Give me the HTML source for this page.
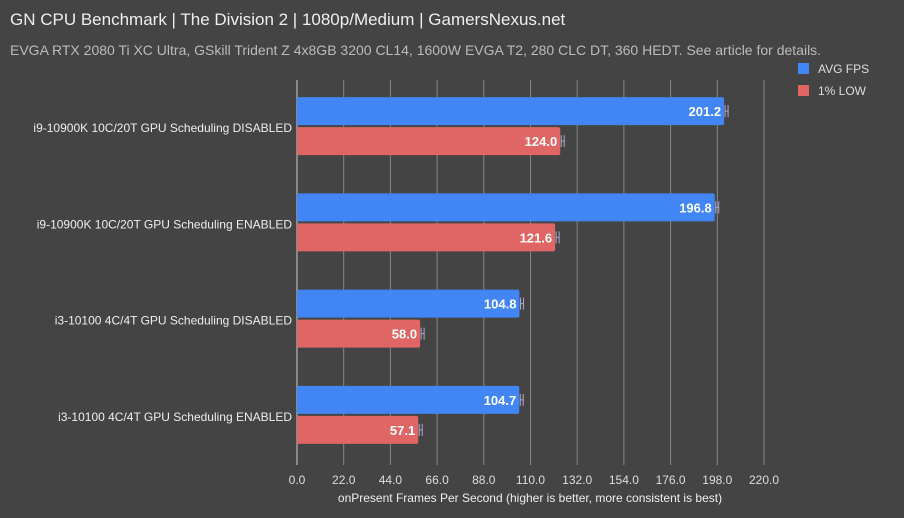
<!DOCTYPE html>
<html><head><meta charset="utf-8"><style>
body{margin:0;background:#444;}
svg{display:block;font-family:"Liberation Sans",sans-serif;}
</style></head><body>
<svg id="c" width="904" height="518">
<rect width="904" height="518" fill="#444"/>
<text x="10" y="25" font-size="17" fill="#eee">GN CPU Benchmark | The Division 2 | 1080p/Medium | GamersNexus.net</text>
<text x="10" y="55" font-size="14" fill="#bbb">EVGA RTX 2080 Ti XC Ultra, GSkill Trident Z 4x8GB 3200 CL14, 1600W EVGA T2, 280 CLC DT, 360 HEDT. See article for details.</text>
<g>
<rect x="798" y="63" width="11" height="11" fill="#4285f4"/>
<text x="818" y="73" font-size="12" fill="#ddd">AVG FPS</text>
<rect x="798" y="85" width="11" height="11" fill="#e06666"/>
<text x="818" y="95" font-size="12" fill="#ddd">1% LOW</text>
</g>
<g id="grid"></g><g id="bars"></g>
<text x="530" y="502" font-size="12" fill="#eee" text-anchor="middle">onPresent Frames Per Second (higher is better, more consistent is best)</text>
</svg>
<script>
const categories=["i9-10900K 10C/20T GPU Scheduling DISABLED","i9-10900K 10C/20T GPU Scheduling ENABLED","i3-10100 4C/4T GPU Scheduling DISABLED","i3-10100 4C/4T GPU Scheduling ENABLED"];
const avgFps=[201.2,196.8,104.8,104.7];
const lowFps=[124.0,121.6,58.0,57.1];
const ticks=[0,22,44,66,88,110,132,154,176,198,220];
const NS="http://www.w3.org/2000/svg";
const x0=297,sc=2.1227,yTop=80,yBot=465;
const xs=v=>x0+v*sc;
function mk(t,a,p){const e=document.createElementNS(NS,t);for(const k in a)e.setAttribute(k,a[k]);p.appendChild(e);return e;}
const g=document.getElementById('grid'),b=document.getElementById('bars');
ticks.forEach(t=>{
 const l=mk('line',{x1:xs(t),x2:xs(t),y1:yTop,y2:yBot,stroke:t===0?'#ccc':'#888','stroke-width':1},g);
 
 
 const tx=mk('text',{x:xs(t),y:484,'font-size':12,fill:'#ddd','text-anchor':'middle'},g);
 tx.textContent=t.toFixed(1);
 
 
});
const gh=(yBot-yTop)/categories.length;
categories.forEach((c,i)=>{
 const cy=yTop+gh*i+gh/2+12;
 const lb=mk('text',{x:292,y:cy-8,'font-size':12,fill:'#eee','text-anchor':'end'},b);
 lb.textContent=c;
 
 
 [[avgFps[i],'#4285f4',cy-43,'bar-avg'],[lowFps[i],'#e06666',cy-13,'bar-low']].forEach(([v,col,y,n])=>{
  const r=mk('rect',{x:x0,y:y,width:v*sc,height:28,fill:col,rx:2},b);
  
  
  const e=mk('path',{d:`M${xs(v)+1} ${y+8}v12M${xs(v)+4} ${y+8}v12M${xs(v)+1} ${y+14}h3`,stroke:'#aac',fill:'none','stroke-width':1},b);
  
  
  const t=mk('text',{x:xs(v)-3,y:y+19,'font-size':13,'font-weight':'bold',fill:'#fff','text-anchor':'end'},b);
  t.textContent=v.toFixed(1);
  
  
 });
});
</script>
</body></html>
